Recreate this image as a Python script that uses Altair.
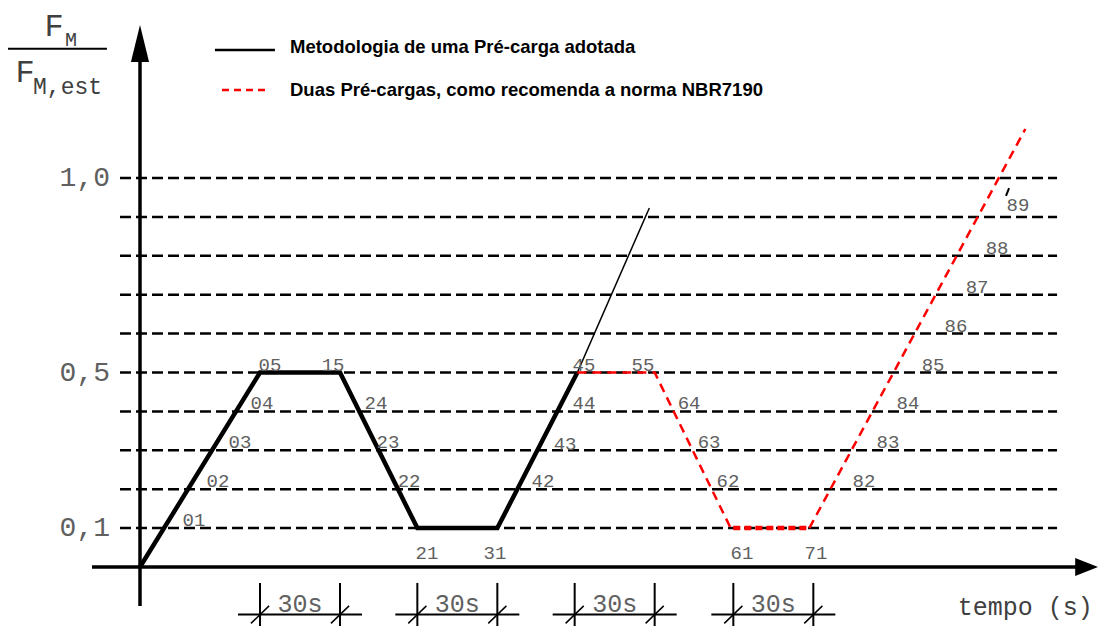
import altair as alt
import pandas as pd

# ---- data (time in s, load as F_M/F_M,est) ----
grid_levels = [0.1, 0.2, 0.3, 0.4, 0.5, 0.6, 0.7, 0.8, 0.9, 1.0]
ytick_values = [0.1, 0.5, 1.0]
ytick_text = ["0,1", "0,5", "1,0"]

black_t = [0, 45, 75, 104, 134, 164]
black_L = [0.0, 0.5, 0.5, 0.1, 0.1, 0.5]
thin_t = [164, 191]
thin_L = [0.5, 0.923]

red1_t = [164, 193, 221.5]
red1_L = [0.5, 0.5, 0.1]
red_flat_t = [222.5, 251]
red2_t = [251, 332]
red2_L = [0.1, 1.126]

pt_labels = ["01", "02", "03", "04", "05", "15", "24", "23", "22", "21", "31",
             "42", "43", "44", "45", "55", "64", "63", "62", "61", "71",
             "82", "83", "84", "85", "86", "87", "88", "89"]
pt_t = [20.25, 29.25, 37.5, 45.75, 48.75, 72.4, 88.5, 93, 100.9, 107.6, 133.1,
        151.1, 159.4, 166.5, 166.5, 188.6, 205.9, 213.4, 220.5, 225.75, 253.5,
        271.5, 280.5, 288, 297.4, 306, 313.9, 321.4, 329.25]
pt_L = [0.1, 0.2, 0.3, 0.4, 0.5, 0.5, 0.4, 0.3, 0.2, 0.015, 0.015,
        0.2, 0.296, 0.4, 0.5, 0.5, 0.4, 0.3, 0.2, 0.015, 0.015,
        0.2, 0.3, 0.4, 0.5, 0.6, 0.7, 0.8, 0.91]

dim_start = [45, 104, 163, 222.5]
dim_end = [75, 134, 193, 252.5]
dim_text = ["30s", "30s", "30s", "30s"]

legend_text = ["Metodologia de uma Pré-carga adotada",
               "Duas Pré-cargas, como recomenda a norma NBR7190"]

# ---- scales ----
XD = [-49.5, 359.25]
YD = [-0.15167, 1.43702]
xs = alt.Scale(domain=XD, nice=False, zero=False)
ys = alt.Scale(domain=YD, nice=False, zero=False)

def X(f="t"):
    return alt.X(f"{f}:Q", scale=xs, axis=None)

def Y(f="L"):
    return alt.Y(f"{f}:Q", scale=ys, axis=None)

def rules(df, **kw):
    return alt.Chart(df).mark_rule(**kw).encode(
        x=X("t0"), x2="t1:Q", y=Y("L0"), y2="L1:Q")

def texts(df, **kw):
    return alt.Chart(df).mark_text(**kw).encode(x=X(), y=Y(), text="s:N")

MONO = "Liberation Mono"
GREY = "#606060"

# grid lines
grid = rules(pd.DataFrame({"t0": -7.5, "t1": 343.9, "L0": grid_levels, "L1": grid_levels}),
             color="black", strokeWidth=2.5, strokeDash=[11, 5])

# axes
axes = rules(pd.DataFrame({"t0": [0, -18], "t1": [0, 352], "L0": [-0.1, 0], "L1": [1.342, 0]}),
             color="black", strokeWidth=3.5)
yarrow = alt.Chart(pd.DataFrame({"t": [0], "L": [1.346]})).mark_point(
    shape="M0,-1L0.49,1L-0.49,1Z", filled=True, size=1369, color="black",
    opacity=1, strokeWidth=0).encode(x=X(), y=Y())
xarrow = alt.Chart(pd.DataFrame({"t": [355], "L": [0]})).mark_point(
    shape="M1,0L-1,-0.78L-1,0.78Z", filled=True, size=529, color="black",
    opacity=1, strokeWidth=0).encode(x=X(), y=Y())

# black path
black = alt.Chart(pd.DataFrame({"t": black_t, "L": black_L, "o": range(len(black_t))})).mark_line(
    color="black", strokeWidth=4.5, strokeJoin="miter").encode(x=X(), y=Y(), order="o:Q")
thin = rules(pd.DataFrame({"t0": [thin_t[0]], "t1": [thin_t[1]], "L0": [thin_L[0]], "L1": [thin_L[1]]}),
             color="black", strokeWidth=1.5)

# red paths
red_df = pd.DataFrame({
    "t": red1_t + red2_t,
    "L": red1_L + red2_L,
    "seg": ["a"] * len(red1_t) + ["b"] * len(red2_t),
    "o": list(range(len(red1_t))) + list(range(len(red2_t))),
})
red = alt.Chart(red_df).mark_line(color="#ff0000", strokeWidth=2.5, strokeDash=[9, 6]).encode(
    x=X(), y=Y(), detail="seg:N", order="o:Q")
red_flat = rules(pd.DataFrame({"t0": [red_flat_t[0]], "t1": [red_flat_t[1]], "L0": [0.1], "L1": [0.1]}),
                 color="#ff0000", strokeWidth=4.5, strokeDash=[7, 4])
tiny = rules(pd.DataFrame({"t0": [324.75], "t1": [325.9], "L0": [0.954], "L1": [0.974]}),
             color="black", strokeWidth=2)

# point labels
plabels = texts(pd.DataFrame({"t": pt_t, "L": pt_L, "s": pt_labels}),
                font=MONO, fontSize=19, color=GREY, align="center",
                baseline="alphabetic", dy=-2)

# y tick labels
yt = texts(pd.DataFrame({"t": -11.25, "L": ytick_values, "s": ytick_text}),
           font=MONO, fontSize=28, color=GREY, align="right", baseline="middle")

# dimension marks
bounds = dim_start + dim_end
dim_v = rules(pd.DataFrame({"t0": bounds, "t1": bounds, "L0": -0.041, "L1": -0.16}),
              color="black", strokeWidth=2)
dim_h = rules(pd.DataFrame({"t0": [s - 8.25 for s in dim_start], "t1": [e + 8.25 for e in dim_end],
                            "L0": -0.122, "L1": -0.122}), color="black", strokeWidth=2)
dim_s = rules(pd.DataFrame({"t0": [b - 3.4 for b in bounds], "t1": [b + 3.4 for b in bounds],
                            "L0": -0.145, "L1": -0.100}), color="black", strokeWidth=1.5)
dim_t = texts(pd.DataFrame({"t": [(s + e) / 2 for s, e in zip(dim_start, dim_end)], "L": -0.095, "s": dim_text}),
              font=MONO, fontSize=25, color=GREY, align="center", baseline="middle")
tempo = texts(pd.DataFrame({"t": [332.0], "L": [-0.104], "s": ["tempo (s)"]}),
              font=MONO, fontSize=25, color="#404040", align="center", baseline="middle")

# y label fraction
frac_line = rules(pd.DataFrame({"t0": [-49.5], "t1": [-12.4], "L0": [1.332], "L1": [1.332]}),
                  color="black", strokeWidth=2)
fF = texts(pd.DataFrame({"t": [-32.25, -43.1], "L": [1.3907, 1.2725], "s": ["F", "F"]}),
           font=MONO, fontSize=32, color="#404040", align="center", baseline="middle")
fM = texts(pd.DataFrame({"t": [-25.9], "L": [1.3548], "s": ["M"]}),
           font=MONO, fontSize=20, color="#404040", align="center", baseline="middle")
fMe = texts(pd.DataFrame({"t": [-40.1], "L": [1.234], "s": ["M,est"]}),
            font=MONO, fontSize=23, color="#404040", align="left", baseline="middle")

# legend
leg_black = rules(pd.DataFrame({"t0": [28.1], "t1": [50.6], "L0": [1.329], "L1": [1.329]}),
                  color="black", strokeWidth=2.5)
leg_red = rules(pd.DataFrame({"t0": [30.75], "t1": [48.75], "L0": [1.226], "L1": [1.226]}),
                color="#ff0000", strokeWidth=2.5, strokeDash=[7, 5])
leg_t = texts(pd.DataFrame({"t": [56.25, 56.25], "L": [1.337, 1.226], "s": legend_text}),
              font="Liberation Sans", fontSize=18.5, fontWeight="bold", color="black",
              align="left", baseline="middle")

chart = alt.layer(
    grid, axes, yarrow, xarrow, black, thin, red, red_flat, tiny, plabels, yt,
    dim_v, dim_h, dim_s, dim_t, tempo, frac_line, fF, fM, fMe, leg_black, leg_red, leg_t
).properties(width=1090, height=618, padding=0, autosize="none",
             background="white").configure_view(stroke=None)

chart.save("out.html", embed_options={"renderer": "svg", "actions": False})
